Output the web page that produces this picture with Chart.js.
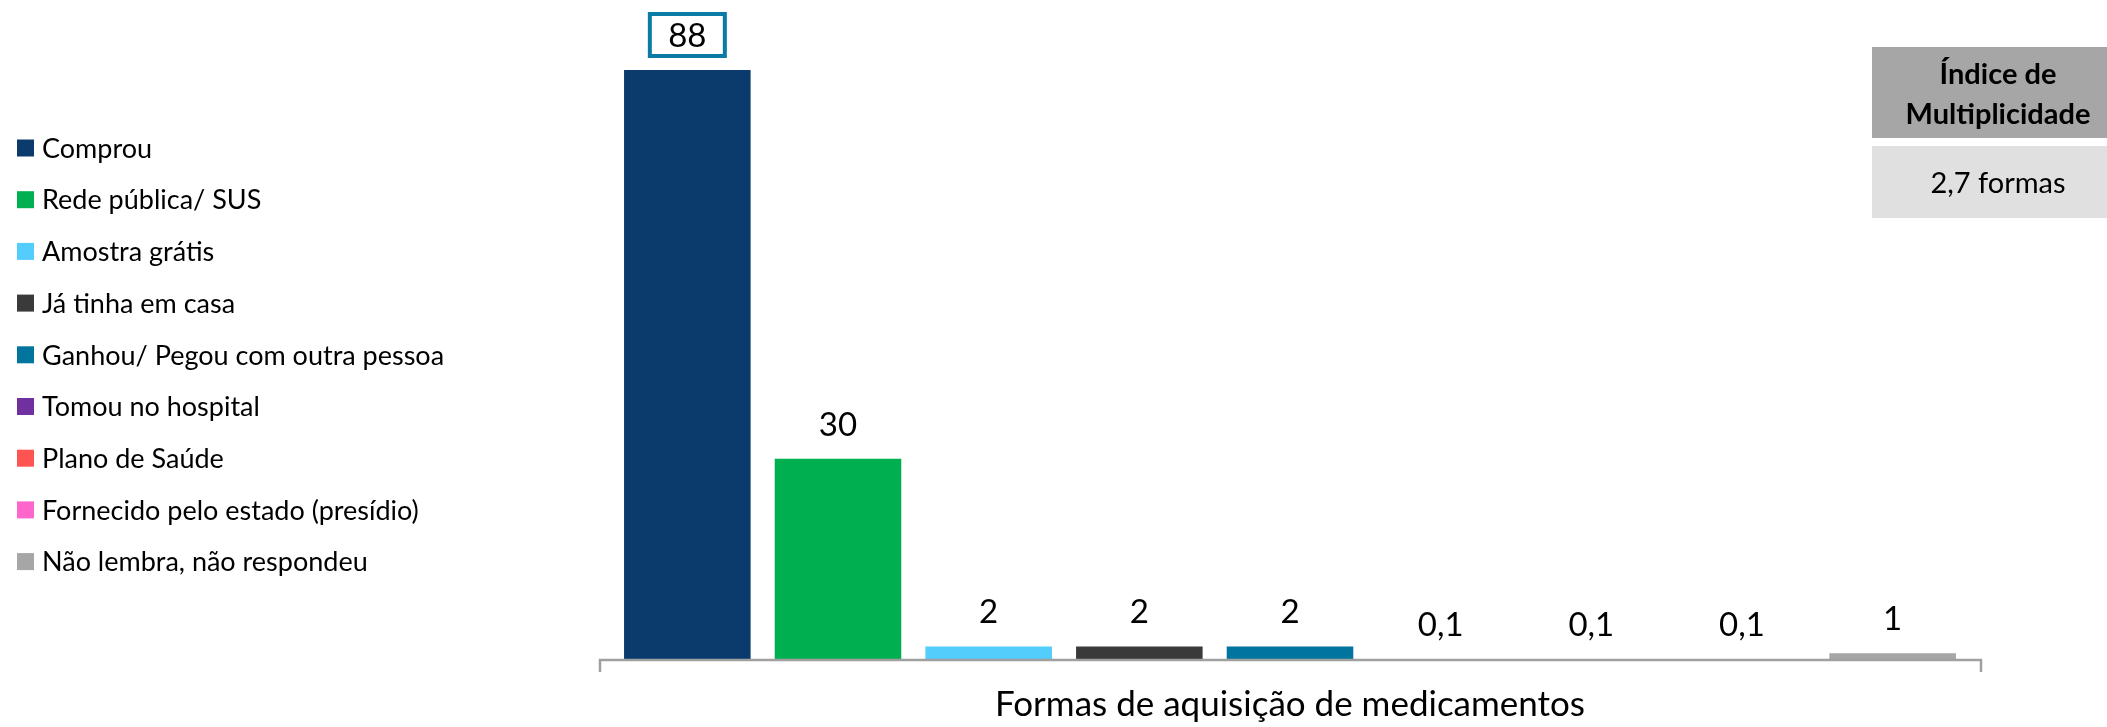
<!DOCTYPE html>
<html>
<head>
<meta charset="utf-8">
<script src="https://cdn.jsdelivr.net/npm/chart.js@4"></script>
<style>
  html, body { margin: 0; padding: 0; background: #fff; }
  #wrap { width: 2107px; height: 727px; }
</style>
</head>
<body>
<div id="wrap"><canvas id="myBarChart"></canvas></div>
<script>
// categories and values
const categories = [
  "Comprou",
  "Rede pública/ SUS",
  "Amostra grátis",
  "Já tinha em casa",
  "Ganhou/ Pegou com outra pessoa",
  "Tomou no hospital",
  "Plano de Saúde",
  "Fornecido pelo estado (presídio)",
  "Não lembra, não respondeu"
];
const values = [88, 30, 2, 2, 2, 0.1, 0.1, 0.1, 1];
const barColors = ["#0A3B6C", "#00B050", "#52CDFC", "#3A3A3A", "#02759F", "#7030A0", "#FF5552", "#FF66CC", "#A6A6A6"];
const axisTitle = "Formas de aquisição de medicamentos";
const indexTitle = ["Índice de", "Multiplicidade"];
const indexValue = "2,7 formas";

const FONT = "Lato, 'Open Sans', sans-serif";

// legend drawn on the left, one row per category
const legendPlugin = {
  id: "sideLegend",
  afterDraw(chart) {
    const ctx = chart.ctx;
    const labels = chart.data.labels;
    const colors = chart.data.datasets[0].backgroundColor;
    ctx.save();
    ctx.font = "27px " + FONT;
    ctx.textBaseline = "middle";
    ctx.textAlign = "left";
    labels.forEach(function (label, i) {
      const y = 148 + i * 51.7;
      ctx.fillStyle = colors[i];
      ctx.fillRect(17, y - 8.5, 17, 17);
      ctx.fillStyle = "#000";
      ctx.fillText(label, 42, y + 1);
    });
    ctx.restore();
  }
};

// the "Índice de Multiplicidade" box top right
const indexBoxPlugin = {
  id: "indexBox",
  afterDraw(chart) {
    const ctx = chart.ctx;
    ctx.save();
    ctx.fillStyle = "#A6A6A6";
    ctx.fillRect(1872, 47, 235, 91);
    ctx.fillStyle = "#E0E0E0";
    ctx.fillRect(1872, 146, 235, 72);
    ctx.fillStyle = "#000";
    ctx.textAlign = "center";
    ctx.textBaseline = "middle";
    ctx.font = "bold 29px " + FONT;
    ctx.fillText(indexTitle[0], 1998, 75);
    ctx.fillText(indexTitle[1], 1998, 115);
    ctx.font = "29px " + FONT;
    ctx.fillText(indexValue, 1998, 184);
    ctx.restore();
  }
};

// bottom axis line with small end ticks
const axisLinePlugin = {
  id: "axisLine",
  afterDatasetsDraw(chart) {
    const ctx = chart.ctx;
    const a = chart.chartArea;
    const l = a.left - 12, r = a.right + 13, y = a.bottom;
    ctx.save();
    ctx.strokeStyle = "#A0A0A0";
    ctx.lineWidth = 2.5;
    ctx.beginPath();
    ctx.moveTo(l, y + 12);
    ctx.lineTo(l, y);
    ctx.lineTo(r, y);
    ctx.lineTo(r, y + 12);
    ctx.stroke();
    ctx.restore();
  }
};

// value labels above bars, the first one framed
const valueLabelPlugin = {
  id: "valueLabels",
  afterDatasetsDraw(chart) {
    const ctx = chart.ctx;
    const meta = chart.getDatasetMeta(0);
    const data = chart.data.datasets[0].data;
    ctx.save();
    ctx.font = "33px " + FONT;
    ctx.textAlign = "center";
    ctx.textBaseline = "middle";
    meta.data.forEach(function (bar, i) {
      const x = bar.x;
      const y = Math.min(bar.y, chart.chartArea.bottom) - 35;
      if (i === 0) {
        ctx.strokeStyle = "#0A7BA5";
        ctx.lineWidth = 4;
        ctx.strokeRect(x - 37.5, y - 21, 75, 42);
      }
      ctx.fillStyle = "#000";
      ctx.fillText(data[i].toLocaleString("pt-BR"), x, y + 1);
    });
    ctx.restore();
  }
};

function setupBarChart() {
  var ctx = document.getElementById("myBarChart");
  if (!ctx) {
    console.error("Canvas for myBarChart not found!");
    return null;
  }
  return new Chart(ctx, {
    type: "bar",
    data: {
      labels: categories,
      datasets: [{
        label: axisTitle,
        data: values,
        backgroundColor: barColors,
        borderWidth: 0,
        barPercentage: 0.84,
        categoryPercentage: 1
      }]
    },
    options: {
      responsive: true,
      maintainAspectRatio: false,
      animation: false,
      layout: { padding: { left: 612, right: 139, top: 70, bottom: 0 } },
      plugins: {
        legend: { display: false },
        tooltip: { enabled: false }
      },
      scales: {
        x: {
          grid: { display: false, drawTicks: false },
          border: { display: false },
          ticks: { display: false },
          title: {
            display: true,
            text: axisTitle,
            color: "#000",
            font: { family: FONT, size: 35 },
            padding: { top: 24, bottom: 1 }
          }
        },
        y: {
          display: false,
          min: 0,
          max: 88
        }
      }
    },
    plugins: [legendPlugin, indexBoxPlugin, axisLinePlugin, valueLabelPlugin]
  });
}

setupBarChart();
</script>
</body>
</html>
